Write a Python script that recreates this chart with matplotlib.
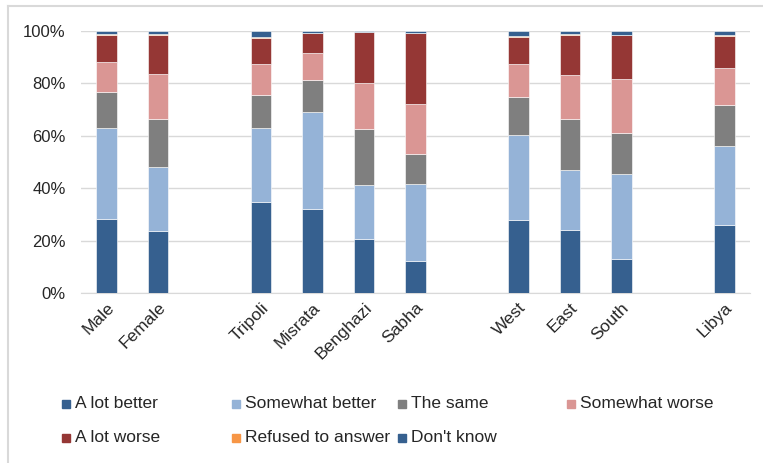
import matplotlib
matplotlib.use('Agg')
import matplotlib.pyplot as plt
from matplotlib.patches import Rectangle
from matplotlib.ticker import PercentFormatter
import numpy as np

plt.rcParams['font.family'] = ['Liberation Sans', 'DejaVu Sans']

# Groupes (les cases vides séparent les blocs)
categories = ['Male', 'Female', '', 'Tripoli', 'Misrata', 'Benghazi', 'Sabha',
              '', 'West', 'East', 'South', '', 'Libya']

# Parts de réponses en % (None = case vide)
a_lot_better    = [28.2, 23.5, None, 34.7, 32.1, 20.7, 12.3, None, 28.0, 23.9, 13.1, None, 25.8]
somewhat_better = [34.8, 24.6, None, 28.3, 37.0, 20.6, 29.5, None, 32.4, 23.2, 32.3, None, 30.2]
the_same        = [13.9, 18.3, None, 12.7, 12.4, 21.3, 11.4, None, 14.6, 19.3, 15.7, None, 15.9]
somewhat_worse  = [11.3, 17.2, None, 11.8, 10.3, 17.6, 19.1, None, 12.5, 16.9, 20.6, None, 14.0]
a_lot_worse     = [10.1, 15.0, None,  9.7,  7.4, 19.4, 26.9, None, 10.2, 15.2, 16.9, None, 12.2]
refused         = [ 0.4,  0.4, None,  0.5,  0.0,  0.2,  0.0, None,  0.5,  0.5,  0.0, None,  0.4]
dont_know       = [ 1.3,  1.0, None,  2.3,  0.8,  0.2,  0.8, None,  1.8,  1.0,  1.4, None,  1.5]

series = [
    ('A lot better', a_lot_better, '#36608f'),
    ('Somewhat better', somewhat_better, '#95b3d7'),
    ('The same', the_same, '#7f7f7f'),
    ('Somewhat worse', somewhat_worse, '#da9694'),
    ('A lot worse', a_lot_worse, '#953735'),
    ('Refused to answer', refused, '#f79646'),
    ("Don't know", dont_know, '#36608f'),
]

fig = plt.figure(figsize=(7.63, 4.63), dpi=100)
ax = fig.add_axes([0.106, 0.367, 0.877, 0.566])

x = np.arange(len(categories))
bottom = np.zeros(len(categories))
for label, vals, color in series:
    v = np.array([np.nan if a is None else a for a in vals], dtype=float)
    ax.bar(x, np.nan_to_num(v), 0.4, bottom=bottom, color=color,
           edgecolor='white', linewidth=0.4, zorder=3)
    bottom += np.nan_to_num(v)

ax.set_xlim(-0.5, len(categories) - 0.5)
ax.set_ylim(0, 100)
ax.set_yticks(np.arange(0, 101, 20))
ax.yaxis.set_major_formatter(PercentFormatter(decimals=0))
ax.set_xticks(x)
ax.set_xticklabels(categories, rotation=45, ha='right', rotation_mode='anchor')
ax.tick_params(axis='both', length=0, labelsize=12.5, colors='#262626')
ax.tick_params(axis='y', labelsize=12, pad=11)
ax.tick_params(axis='x', pad=5)
ax.grid(axis='y', color='#d9d9d9', linewidth=1, zorder=0)
for s in ['top', 'right', 'left']:
    ax.spines[s].set_visible(False)
ax.spines['bottom'].set_color('#d9d9d9')

# Cadre du graphique (gauche et haut)
fig.add_artist(plt.Line2D([8 / 763, 8 / 763], [0, 1 - 6 / 463], color='#d9d9d9', linewidth=1.5))
fig.add_artist(plt.Line2D([8 / 763, 1], [1 - 6 / 463, 1 - 6 / 463], color='#d9d9d9', linewidth=1.5))

# Légende en deux lignes
col_x = [66, 236, 402, 571]
row_y = [404, 438]
for i, (label, vals, color) in enumerate(series):
    cx = col_x[i % 4] / 763
    cy = 1 - row_y[i // 4] / 463
    fig.add_artist(Rectangle((cx - 4 / 763, cy - 4 / 463), 8 / 763, 8 / 463,
                             transform=fig.transFigure, color=color))
    fig.text(cx + 9 / 763, cy, label, va='center', ha='left', fontsize=12.5, color='#262626')

plt.savefig('out.png')
